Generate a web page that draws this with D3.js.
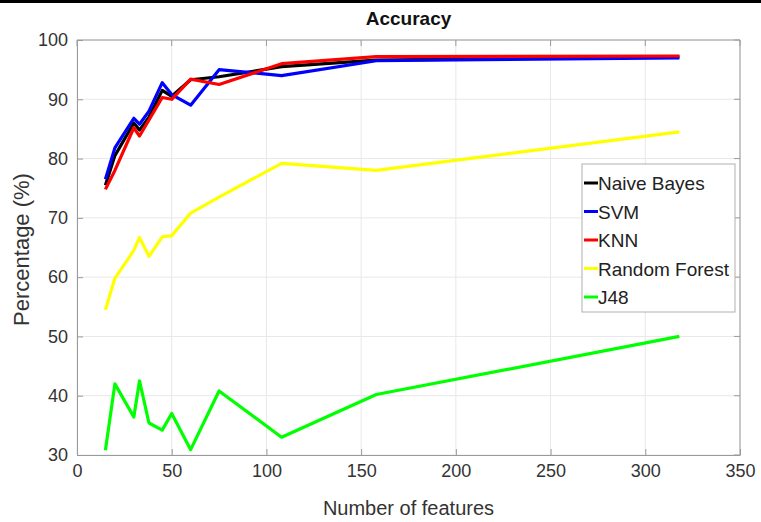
<!DOCTYPE html>
<html><head><meta charset="utf-8">
<script src="https://cdn.jsdelivr.net/npm/d3@7"></script>
<style>body{margin:0;background:#fff}svg{display:block}text{font-family:"Liberation Sans",Arial,sans-serif}</style>
</head><body><svg id="c" width="761" height="522"></svg>
<script>
const features = [15, 20, 30, 33, 38, 45, 50, 60, 75, 108, 158, 318];
const naiveBayes = [75.5, 80.5, 86.0, 84.8, 87.0, 91.5, 90.5, 93.3, 93.8, 95.5, 96.6, 97.2];
const svm = [76.5, 81.8, 86.8, 85.8, 88.0, 92.8, 90.8, 89.0, 95.0, 94.0, 96.5, 97.0];
const knn = [74.8, 78.0, 85.2, 83.8, 86.5, 90.3, 90.0, 93.4, 92.5, 96.0, 97.2, 97.3];
const randomForest = [54.5, 59.8, 64.5, 66.7, 63.5, 66.8, 67.0, 70.8, 73.5, 79.2, 78.0, 84.5];
const j48 = [30.8, 42.0, 36.4, 42.5, 35.4, 34.2, 37.0, 30.9, 40.8, 33.0, 40.2, 50.0];
const seriesNames = ["Naive Bayes", "SVM", "KNN", "Random Forest", "J48"];
const seriesColors = ["#000000", "#0000ff", "#ff0000", "#ffff00", "#00ff00"];
const xTicks = [0, 50, 100, 150, 200, 250, 300, 350];
const yTicks = [30, 40, 50, 60, 70, 80, 90, 100];

const series = [naiveBayes, svm, knn, randomForest, j48];
const svg = d3.select("#c");
const L = 77, R = 740, T = 40, B = 455;
const x = d3.scaleLinear().domain([0, 350]).range([L, R]);
const y = d3.scaleLinear().domain([30, 100]).range([B, T]);

svg.append("rect").attr("x", 0).attr("y", 0).attr("width", 761).attr("height", 3).attr("fill", "#000");

// grid
const g = svg.append("g");
g.selectAll(".gx").data(xTicks).enter().append("line")
  .attr("x1", d => x(d)).attr("x2", d => x(d)).attr("y1", T).attr("y2", B)
  .attr("stroke", "#e8e8e8").attr("stroke-width", 1);
g.selectAll(".gy").data(yTicks).enter().append("line")
  .attr("y1", d => y(d)).attr("y2", d => y(d)).attr("x1", L).attr("x2", R)
  .attr("stroke", "#e8e8e8").attr("stroke-width", 1);

// axes
const ax = svg.append("g").attr("transform", `translate(0,${B})`)
  .call(d3.axisBottom(x).tickValues(xTicks).tickSizeInner(-6).tickSizeOuter(0).tickPadding(9));
const ay = svg.append("g").attr("transform", `translate(${L},0)`)
  .call(d3.axisLeft(y).tickValues(yTicks).tickSizeInner(-6).tickSizeOuter(0).tickPadding(9));
[ax, ay].forEach(a => {
  a.select(".domain").attr("stroke", "#9a9a9a");
  a.selectAll(".tick line").attr("stroke", "#9a9a9a");
  a.selectAll(".tick text").attr("fill", "#333").style("font-size", "18px");
});
// top and right box
svg.append("line").attr("x1", L).attr("x2", R).attr("y1", T).attr("y2", T).attr("stroke", "#9a9a9a");
svg.append("line").attr("x1", R).attr("x2", R).attr("y1", T).attr("y2", B).attr("stroke", "#9a9a9a");
svg.append("g").selectAll("line").data(xTicks).enter().append("line")
  .attr("x1", d => x(d)).attr("x2", d => x(d)).attr("y1", T).attr("y2", T + 6).attr("stroke", "#9a9a9a");
svg.append("g").selectAll("line").data(yTicks).enter().append("line")
  .attr("y1", d => y(d)).attr("y2", d => y(d)).attr("x1", R).attr("x2", R - 6).attr("stroke", "#9a9a9a");

// lines
const line = d3.line().x((d, i) => x(features[i])).y(d => y(d));
series.forEach((s, k) => {
  svg.append("path").datum(s).attr("d", line).attr("fill", "none")
    .attr("stroke", seriesColors[k]).attr("stroke-width", 3.2).attr("stroke-linejoin", "round");
});

// title & labels
svg.append("text").attr("x", (L + R) / 2).attr("y", 25).attr("text-anchor", "middle")
  .style("font-size", "19px").style("font-weight", "bold").attr("fill", "#111").text("Accuracy");
svg.append("text").attr("x", (L + R) / 2).attr("y", 515).attr("text-anchor", "middle")
  .style("font-size", "20px").attr("fill", "#333").text("Number of features");
svg.append("text").attr("transform", `translate(29,${(T + B) / 2 + 2}) rotate(-90)`).attr("text-anchor", "middle")
  .style("font-size", "22px").attr("fill", "#333").text("Percentage (%)");

// legend
const lg = svg.append("g");
lg.append("rect").attr("x", 582).attr("y", 164).attr("width", 153).attr("height", 148)
  .attr("fill", "#fff").attr("stroke", "#b0b0b0").attr("stroke-width", 1);
seriesNames.forEach((n, k) => {
  const cy = 183 + k * 28.5;
  lg.append("line").attr("x1", 584).attr("x2", 598).attr("y1", cy).attr("y2", cy)
    .attr("stroke", seriesColors[k]).attr("stroke-width", 3);
  lg.append("text").attr("x", 598).attr("y", cy + 7).style("font-size", "19px").attr("fill", "#222").text(n);
});
</script></body></html>
